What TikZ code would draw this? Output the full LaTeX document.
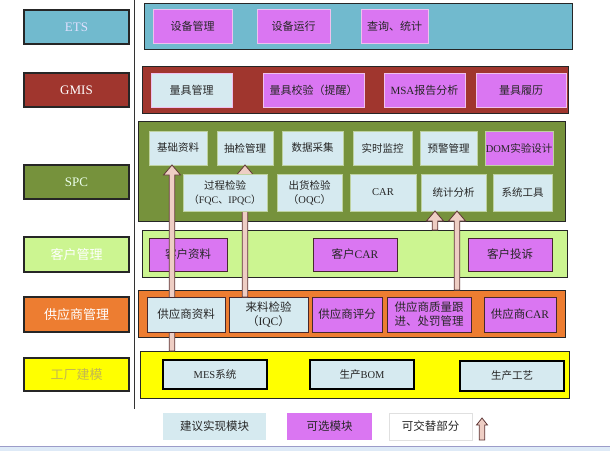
\documentclass[tikz,border=0pt]{standalone}
\usepackage{fontspec}
\setmainfont{Noto Sans CJK SC}
\newfontfamily\lat{Liberation Serif}
\usepackage{tikz}
\usetikzlibrary{calc}
\usepackage{xcolor}
\definecolor{etsblue}{RGB}{113,186,206}
\definecolor{gmisred}{RGB}{160,54,46}
\definecolor{spcgreen}{RGB}{118,146,60}
\definecolor{cusgreen}{RGB}{204,245,145}
\definecolor{suporange}{RGB}{237,125,49}
\definecolor{facyellow}{RGB}{255,255,0}
\definecolor{facolive}{RGB}{196,184,80}
\definecolor{optmag}{RGB}{218,118,242}
\definecolor{recblue}{RGB}{214,234,240}
\definecolor{pinkedge}{RGB}{240,192,238}
\definecolor{spcedge}{RGB}{190,210,160}
\definecolor{darkedge}{RGB}{70,40,45}
\definecolor{arrowpink}{RGB}{238,206,196}
\definecolor{arrowedge}{RGB}{95,55,55}
\definecolor{stripblue}{RGB}{222,234,247}

\begin{document}
\begin{tikzpicture}[x=1pt, y=-1pt,
    every node/.style={inner sep=0pt, outer sep=0pt, anchor=north west, align=center, text=black!85},
    sz/.style 2 args={minimum width=#1pt, minimum height=#2pt},
    lefttag/.style={draw=black!85, line width=1.1pt, font=\fontsize{13}{15}\selectfont},
    band/.style={draw=black!85, line width=0.9pt},
    topbox/.style={draw=pinkedge, line width=1pt, font=\fontsize{11}{13}\selectfont},
    spcbox/.style={fill=recblue, draw=spcedge, line width=0.6pt, font=\fontsize{10.5}{14}\selectfont},
    midbox/.style={draw=darkedge, line width=1pt, font=\fontsize{11.5}{14}\selectfont},
    facbox/.style={fill=recblue, draw=black, line width=1.1pt, font=\fontsize{10.5}{13}\selectfont},
    keybox/.style={font=\fontsize{11.5}{13}\selectfont},
    arrowshape/.style 2 args={to path={let \p1=(\tikztostart), \p2=(\tikztotarget) in
        (\x1-2.8pt,\y1) -- (\x1-2.8pt,\y2-#2pt) -- (\x1-#1pt,\y2-#2pt) -- (\x1,\y2)
        -- (\x1+#1pt,\y2-#2pt) -- (\x1+2.8pt,\y2-#2pt) -- (\x1+2.8pt,\y1) -- cycle}},
    uparrow/.style={arrowshape={8.5}{10}, fill=arrowpink, draw=arrowedge, line width=0.8pt},
    keyarrow/.style={arrowshape={5.5}{7}, fill=arrowpink, draw=arrowedge, line width=0.8pt}]
    \useasboundingbox (0,0) rectangle (610,451);

    % left column
    \node[lefttag, fill=etsblue, text=white!88!blue, sz={105}{34}] (tets) at (24,10) {\lat ETS};
    \node[lefttag, fill=gmisred, text=white, sz={105}{34}] (tgmis) at (24,73) {\lat GMIS};
    \node[lefttag, fill=spcgreen, text=white!92!green, sz={105}{34}] (tspc) at (24,165) {\lat SPC};
    \node[lefttag, fill=cusgreen, text=white, sz={105}{35}] (tcus) at (24,237) {客户管理};
    \node[lefttag, fill=suporange, text=white, sz={105}{35}] (tsup) at (24,297) {供应商管理};
    \node[lefttag, fill=facyellow, text=facolive, sz={105}{33}] (tfac) at (24,358) {工厂建模};
    \draw[black!80, line width=1pt] (134,0) -- (134,409);

    % bands
    \node[band, fill=etsblue, sz={428}{46}] (ets) at (144,3) {};
    \node[band, fill=gmisred, sz={426}{47}] (gmis) at (142,66) {};
    \node[band, fill=spcgreen, sz={427}{100}] (spc) at (138,121) {};
    \node[band, fill=cusgreen, sz={425}{47}] (cus) at (142,230) {};
    \node[band, fill=suporange, sz={427}{47}] (sup) at (138,290) {};
    \node[band, fill=facyellow, sz={429}{47}] (fac) at (140,351) {};

    % ETS
    \node[topbox, fill=optmag, sz={79}{34}] (sbgl) at (153,9) {设备管理};
    \node[topbox, fill=optmag, sz={73}{34}] (sbyx) at (257,9) {设备运行};
    \node[topbox, fill=optmag, sz={67}{34}] (cxtj) at (361,9) {查询、统计};

    % GMIS
    \node[topbox, fill=recblue, sz={81}{34}] (ljgl) at (151,73) {量具管理};
    \node[topbox, fill=optmag, sz={101}{34}] (ljjy) at (263,73) {量具校验（提醒）};
    \node[topbox, fill=optmag, sz={81}{34}] (msa) at (384,73) {{\lat MSA}报告分析};
    \node[topbox, fill=optmag, sz={90}{34}] (ljll) at (476,73) {量具履历};

    % SPC
    \node[spcbox, sz={58}{34}] (jczl) at (149,131) {基础资料};
    \node[spcbox, sz={56}{34}] (cjgl) at (217,131) {抽检管理};
    \node[spcbox, sz={61}{34}] (sjcj) at (282,131) {数据采集};
    \node[spcbox, sz={59}{34}] (ssjk) at (353,131) {实时监控};
    \node[spcbox, sz={57}{34}] (yjgl) at (420,131) {预警管理};
    \node[spcbox, fill=optmag, sz={68}{34}] (dom) at (485,131) {{\lat DOM}实验设计};
    \node[spcbox, sz={65}{37}] (chjy) at (277,174) {出货检验\\（{\lat OQC}）};
    \node[spcbox, sz={66}{37}] (car) at (350,174) {\lat CAR};
    \node[spcbox, sz={65}{37}] (tjfx) at (421,174) {统计分析};
    \node[spcbox, sz={59}{37}] (xtgj) at (493,174) {系统工具};

    % customers
    \node[midbox, fill=optmag, sz={78}{33}] (khzl) at (149,238) {客户资料};
    \node[midbox, fill=optmag, sz={84}{33}] (khcar) at (313,238) {客户{\lat CAR}};
    \node[midbox, fill=optmag, sz={84}{33}] (khts) at (468,238) {客户投诉};

    % suppliers
    \node[midbox, fill=recblue, sz={79}{35}] (lljy) at (229,297) {来料检验\\（{\lat IQC}）};
    \node[midbox, fill=optmag, sz={70}{35}] (gyspf) at (312,297) {供应商评分};
    \node[midbox, fill=optmag, sz={84}{35}] (gyszl) at (387,297) {供应商质量跟\\进、处罚管理};
    \node[midbox, fill=optmag, sz={72}{35}] (gyscar) at (484,297) {供应商{\lat CAR}};

    % arrows
    \coordinate (a1) at (172,351);
    \coordinate (a3) at (435,230);
    \coordinate (a4) at (457,290);
    \filldraw[uparrow] (a1) to (a1 |- jczl.south);
    \filldraw[uparrow] (lljy.north -| cjgl.south) to (cjgl.south);
    \filldraw[uparrow] (a3) to (a3 |- tjfx.south);
    \filldraw[uparrow] (a4) to (a4 |- tjfx.south);

    \node[spcbox, sz={84}{37}] (gcjy) at (183,174) {过程检验\\{\fontsize{10}{14}\selectfont（{\lat FQC}、{\lat IPQC}）}};
    \node[midbox, fill=recblue, sz={78}{35}] (gyszl0) at (147,297) {供应商资料};

    % factory
    \node[facbox, sz={104}{29}] (mes) at (163,360) {{\lat MES}系统};
    \node[facbox, sz={104}{29}] (bom) at (310,360) {生产{\lat BOM}};
    \node[facbox, sz={104}{30}] (gy) at (460,361) {生产工艺};

    % key
    \node[keybox, fill=recblue, sz={103}{27}] (k1) at (163,413) {建议实现模块};
    \node[keybox, fill=optmag, sz={85}{27}] (k2) at (287,413) {可选模块};
    \node[keybox, fill=white, draw=black!12, sz={83}{27}] (k3) at (389,413) {可交替部分};
    \coordinate (ka) at (482,440);
    \coordinate (kb) at (482,418);
    \filldraw[keyarrow] (ka) to (kb);

    \fill[stripblue] (0,446) rectangle (610,451);
    \draw[blue!30!gray!60] (0,446) -- (610,446);
\end{tikzpicture}
\end{document}
